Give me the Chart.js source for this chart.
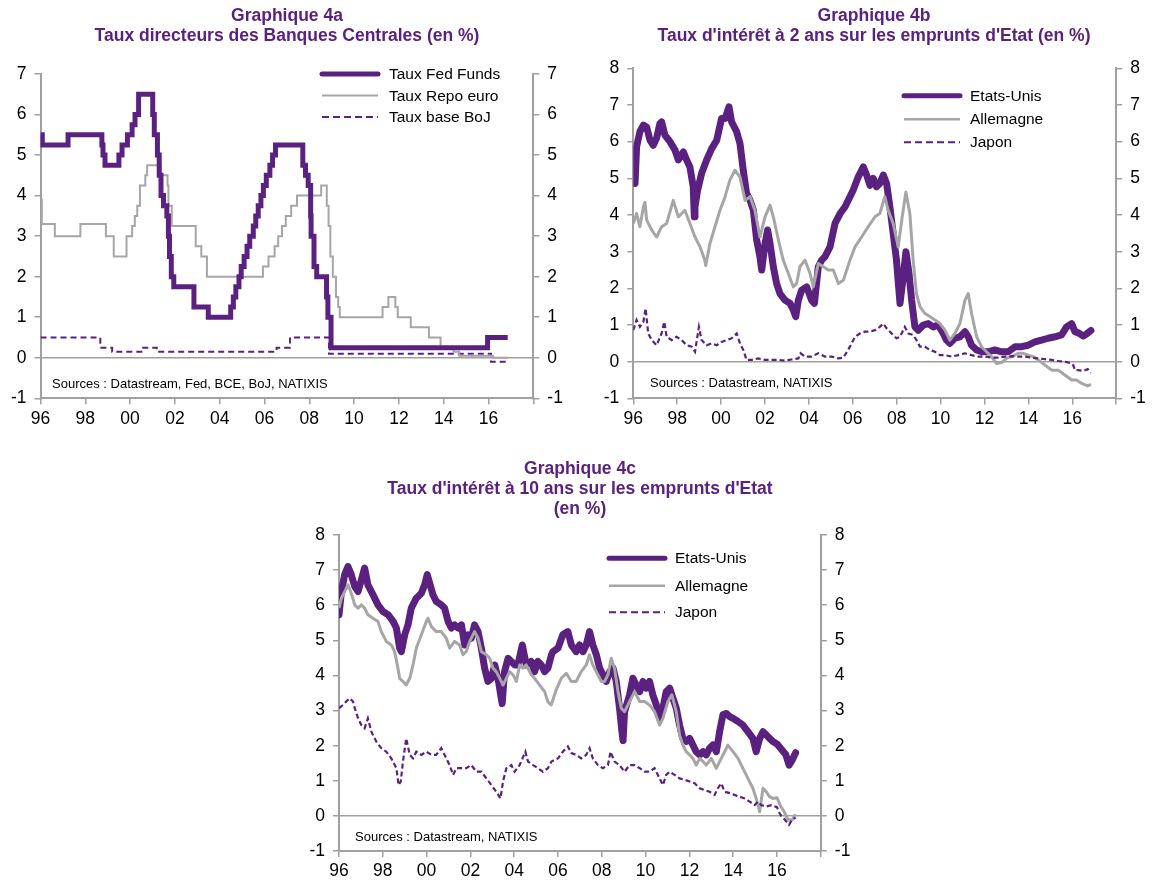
<!DOCTYPE html>
<html><head><meta charset="utf-8">
<script src="https://cdn.jsdelivr.net/npm/chart.js@4.4.0/dist/chart.umd.min.js"></script>
<style>
body{margin:0;width:1158px;height:881px;overflow:hidden;background:#fff;font-family:"Liberation Sans",Arial,sans-serif;position:relative}
canvas{position:absolute}
.title{position:absolute;color:#5B2180;font-weight:bold;font-size:17.5px;text-align:center;line-height:20px;white-space:nowrap;transform:translateX(-50%)}
.src{position:absolute;font-size:13px;color:#000;white-space:nowrap;line-height:16px}
.leg{position:absolute;font-size:15.5px;color:#000;white-space:nowrap;line-height:18px}
svg{position:absolute;left:0;top:0;overflow:visible}
</style></head>
<body>
<canvas id="c4a"></canvas>
<canvas id="c4b"></canvas>
<canvas id="c4c"></canvas>
<div class="title" style="left:287px;top:5px">Graphique 4a<br>Taux directeurs des Banques Centrales (en %)</div>
<div class="title" style="left:874px;top:5px">Graphique 4b<br>Taux d'intérêt à 2 ans sur les emprunts d'Etat (en %)</div>
<div class="title" style="left:580px;top:458px">Graphique 4c<br>Taux d'intérêt à 10 ans sur les emprunts d'Etat<br>(en %)</div>
<div class="src" style="left:52px;top:376px">Sources : Datastream, Fed, BCE, BoJ, NATIXIS</div>
<div class="src" style="left:650px;top:375px">Sources : Datastream, NATIXIS</div>
<div class="src" style="left:355px;top:829px">Sources : Datastream, NATIXIS</div>
<script>
// ---- Graphique 4a : policy rates (date, %)
const fedFunds = [[1996.00,5.50],[1996.08,5.25],[1997.23,5.50],[1998.74,5.25],[1998.79,5.00],[1998.88,4.75],[1999.50,5.00],[1999.64,5.25],[1999.88,5.50],[2000.09,5.75],[2000.22,6.00],[2000.38,6.50],[2001.01,6.00],[2001.08,5.50],[2001.22,5.00],[2001.30,4.50],[2001.38,4.00],[2001.49,3.75],[2001.64,3.50],[2001.71,3.00],[2001.76,2.50],[2001.84,2.00],[2001.95,1.75],[2002.85,1.25],[2003.49,1.00],[2004.49,1.25],[2004.61,1.50],[2004.72,1.75],[2004.86,2.00],[2004.96,2.25],[2005.09,2.50],[2005.22,2.75],[2005.34,3.00],[2005.50,3.25],[2005.61,3.50],[2005.72,3.75],[2005.84,4.00],[2005.95,4.25],[2006.08,4.50],[2006.24,4.75],[2006.36,5.00],[2006.49,5.25],[2007.71,4.75],[2007.83,4.50],[2007.95,4.25],[2008.06,3.50],[2008.08,3.00],[2008.21,2.25],[2008.33,2.00],[2008.77,1.50],[2008.83,1.00],[2008.97,0.25],[2015.96,0.50],[2016.86,0.50]];
const repoEuro = [[1996.00,3.90],[1996.06,3.30],[1996.64,3.00],[1997.78,3.30],[1998.92,3.00],[1999.27,2.50],[1999.84,3.00],[2000.09,3.25],[2000.21,3.50],[2000.32,3.75],[2000.44,4.25],[2000.68,4.50],[2000.76,4.75],[2001.36,4.50],[2001.67,4.25],[2001.71,3.75],[2001.86,3.25],[2002.93,2.75],[2003.18,2.50],[2003.43,2.00],[2005.93,2.25],[2006.18,2.50],[2006.45,2.75],[2006.61,3.00],[2006.78,3.25],[2006.95,3.50],[2007.19,3.75],[2007.45,4.00],[2008.53,4.25],[2008.78,3.75],[2008.86,3.25],[2008.94,2.50],[2009.05,2.00],[2009.19,1.50],[2009.29,1.25],[2009.36,1.00],[2011.27,1.25],[2011.53,1.50],[2011.84,1.25],[2011.95,1.00],[2012.53,0.75],[2013.34,0.50],[2013.86,0.25],[2014.44,0.15],[2014.69,0.05],[2016.19,0.00],[2016.86,0.00]];
const bojBase = [[1996.00,0.50],[1998.67,0.25],[1999.20,0.15],[2000.58,0.25],[2001.19,0.15],[2006.54,0.25],[2007.14,0.50],[2008.88,0.10],[2016.11,-0.10],[2016.80,-0.10]];

// ---- Graphique 4b : 2-year yields
const us2y = [[1996.00,5.13],[1996.08,4.86],[1996.15,5.86],[1996.30,6.27],[1996.46,6.45],[1996.61,6.40],[1996.76,6.04],[1996.91,5.90],[1997.06,6.09],[1997.21,6.49],[1997.29,6.54],[1997.44,6.18],[1997.67,6.00],[1997.90,5.77],[1998.05,5.50],[1998.28,5.72],[1998.43,5.50],[1998.58,5.31],[1998.73,4.77],[1998.78,3.95],[1998.81,4.22],[1998.93,4.68],[1999.11,5.13],[1999.34,5.50],[1999.57,5.81],[1999.80,6.04],[2000.02,6.63],[2000.18,6.63],[2000.36,6.95],[2000.48,6.54],[2000.71,6.27],[2000.86,5.95],[2001.01,5.22],[2001.16,4.59],[2001.32,4.40],[2001.47,4.13],[2001.62,3.32],[2001.77,2.86],[2001.85,2.50],[2002.00,3.22],[2002.12,3.59],[2002.23,3.22],[2002.38,2.59],[2002.53,2.13],[2002.68,1.86],[2002.91,1.68],[2003.14,1.59],[2003.29,1.41],[2003.40,1.23],[2003.52,1.68],[2003.67,1.95],[2003.90,2.04],[2004.12,1.68],[2004.25,1.59],[2004.43,2.59],[2004.58,2.77],[2004.73,2.86],[2004.96,3.13],[2005.19,3.77],[2005.42,4.04],[2005.64,4.22],[2005.79,4.40],[2006.02,4.68],[2006.25,5.04],[2006.48,5.31],[2006.63,5.09],[2006.78,4.81],[2006.93,5.00],[2007.08,4.77],[2007.23,4.86],[2007.39,5.09],[2007.54,4.86],[2007.69,4.22],[2007.84,3.50],[2007.99,2.77],[2008.15,1.59],[2008.30,2.32],[2008.42,3.00],[2008.56,2.41],[2008.68,1.68],[2008.83,0.95],[2008.98,0.86],[2009.21,1.00],[2009.44,1.04],[2009.66,0.95],[2009.89,1.00],[2010.12,0.77],[2010.27,0.59],[2010.42,0.50],[2010.65,0.64],[2010.88,0.68],[2011.11,0.82],[2011.26,0.68],[2011.41,0.45],[2011.64,0.32],[2011.87,0.27],[2012.17,0.27],[2012.47,0.32],[2012.78,0.27],[2013.08,0.27],[2013.39,0.41],[2013.69,0.41],[2013.99,0.45],[2014.30,0.54],[2014.60,0.59],[2014.90,0.64],[2015.21,0.68],[2015.51,0.73],[2015.74,0.95],[2015.97,1.04],[2016.12,0.82],[2016.30,0.78],[2016.50,0.70],[2016.65,0.76],[2016.85,0.85]];
const de2y = [[1996.00,3.77],[1996.15,4.04],[1996.30,3.68],[1996.46,4.22],[1996.53,4.35],[1996.61,3.86],[1996.84,3.59],[1997.06,3.40],[1997.29,3.68],[1997.52,3.77],[1997.82,4.40],[1998.05,3.95],[1998.35,4.13],[1998.58,3.77],[1998.81,3.40],[1999.04,3.13],[1999.26,2.77],[1999.30,2.62],[1999.49,3.22],[1999.72,3.68],[1999.95,4.13],[2000.18,4.50],[2000.40,4.95],[2000.63,5.22],[2000.86,5.04],[2001.09,4.40],[2001.32,4.50],[2001.54,4.13],[2001.77,3.40],[2002.00,3.95],[2002.23,4.27],[2002.38,3.95],[2002.61,3.32],[2002.83,2.77],[2003.06,2.41],[2003.29,2.04],[2003.44,2.13],[2003.59,2.59],[2003.82,2.77],[2004.05,2.41],[2004.20,2.04],[2004.43,2.68],[2004.66,2.59],[2004.88,2.50],[2005.11,2.50],[2005.34,2.13],[2005.57,2.22],[2005.87,2.77],[2006.10,3.13],[2006.40,3.40],[2006.70,3.68],[2007.01,3.95],[2007.23,4.04],[2007.46,4.50],[2007.61,4.13],[2007.84,3.77],[2008.07,3.13],[2008.25,3.95],[2008.42,4.63],[2008.60,4.04],[2008.75,2.77],[2008.90,1.86],[2009.06,1.50],[2009.28,1.32],[2009.51,1.23],[2009.74,1.14],[2009.97,1.04],[2010.20,0.86],[2010.42,0.59],[2010.65,0.77],[2010.88,1.04],[2011.11,1.68],[2011.26,1.86],[2011.41,1.32],[2011.64,0.68],[2011.87,0.41],[2012.09,0.27],[2012.32,0.14],[2012.55,-0.05],[2012.78,-0.02],[2013.01,0.09],[2013.23,0.14],[2013.54,0.23],[2013.76,0.23],[2013.99,0.18],[2014.22,0.14],[2014.45,0.05],[2014.75,-0.09],[2015.06,-0.23],[2015.36,-0.23],[2015.66,-0.36],[2015.97,-0.50],[2016.19,-0.50],[2016.45,-0.60],[2016.70,-0.66],[2016.85,-0.62]];
const jp2y = [[1996.00,0.86],[1996.15,1.14],[1996.30,0.95],[1996.46,1.09],[1996.56,1.45],[1996.68,0.77],[1996.84,0.59],[1997.06,0.45],[1997.29,0.77],[1997.41,1.09],[1997.52,0.68],[1997.75,0.59],[1997.97,0.68],[1998.20,0.59],[1998.43,0.45],[1998.66,0.41],[1998.81,0.27],[1998.99,0.95],[1999.11,0.59],[1999.34,0.45],[1999.57,0.50],[1999.80,0.45],[2000.02,0.54],[2000.25,0.59],[2000.48,0.64],[2000.71,0.77],[2000.86,0.50],[2001.01,0.32],[2001.16,0.05],[2001.39,0.05],[2001.69,0.09],[2002.00,0.05],[2002.30,0.05],[2002.61,0.05],[2002.91,0.03],[2003.21,0.06],[2003.52,0.09],[2003.62,0.23],[2003.82,0.14],[2004.12,0.14],[2004.43,0.23],[2004.73,0.14],[2005.04,0.14],[2005.34,0.09],[2005.57,0.11],[2005.87,0.41],[2006.10,0.68],[2006.32,0.77],[2006.55,0.82],[2006.78,0.82],[2007.01,0.86],[2007.23,0.95],[2007.39,1.04],[2007.54,0.91],[2007.77,0.77],[2007.99,0.64],[2008.15,0.68],[2008.37,0.95],[2008.53,0.77],[2008.75,0.73],[2008.90,0.59],[2009.06,0.41],[2009.28,0.41],[2009.51,0.32],[2009.74,0.27],[2009.97,0.18],[2010.20,0.18],[2010.50,0.14],[2010.80,0.18],[2011.11,0.23],[2011.41,0.18],[2011.71,0.14],[2012.02,0.14],[2012.32,0.11],[2012.63,0.11],[2012.93,0.14],[2013.23,0.15],[2013.54,0.14],[2013.84,0.14],[2014.14,0.11],[2014.45,0.09],[2014.75,0.07],[2015.06,0.05],[2015.36,0.02],[2015.66,0.00],[2015.89,-0.03],[2016.04,-0.09],[2016.12,-0.23],[2016.27,-0.23],[2016.50,-0.25],[2016.70,-0.20],[2016.85,-0.30]];

// ---- Graphique 4c : 10-year yields
const us10y = [[1996.00,5.73],[1996.11,6.39],[1996.26,6.87],[1996.41,7.10],[1996.56,6.87],[1996.72,6.53],[1996.87,6.39],[1997.02,6.72],[1997.17,7.06],[1997.32,6.58],[1997.55,6.30],[1997.78,6.01],[1998.01,5.82],[1998.24,5.73],[1998.47,5.54],[1998.62,5.35],[1998.77,4.78],[1998.85,4.68],[1999.00,5.16],[1999.15,5.44],[1999.30,5.92],[1999.53,6.20],[1999.76,6.34],[1999.91,6.58],[2000.03,6.87],[2000.14,6.63],[2000.29,6.30],[2000.44,6.11],[2000.67,6.01],[2000.82,5.92],[2000.98,5.54],[2001.13,5.35],[2001.28,5.44],[2001.43,5.35],[2001.59,5.44],[2001.74,4.87],[2001.89,5.16],[2002.04,5.06],[2002.19,5.44],[2002.35,5.25],[2002.50,4.78],[2002.65,4.21],[2002.80,3.83],[2002.96,3.92],[2003.11,4.30],[2003.26,3.92],[2003.41,3.35],[2003.45,3.20],[2003.56,4.11],[2003.72,4.49],[2003.87,4.40],[2004.02,4.30],[2004.17,4.30],[2004.37,4.87],[2004.55,4.30],[2004.78,4.40],[2004.93,4.11],[2005.08,4.40],[2005.24,4.30],[2005.39,4.11],[2005.54,4.21],[2005.70,4.59],[2005.77,4.68],[2006.00,4.78],[2006.22,5.16],[2006.45,5.25],[2006.61,4.87],[2006.83,4.68],[2006.99,4.87],[2007.14,4.68],[2007.29,4.87],[2007.44,5.25],[2007.59,4.87],[2007.75,4.59],[2007.90,4.21],[2008.05,4.02],[2008.20,3.83],[2008.36,4.11],[2008.51,4.21],[2008.66,3.83],[2008.81,3.07],[2008.92,2.40],[2008.97,2.15],[2009.04,2.97],[2009.27,3.45],[2009.42,3.92],[2009.57,3.73],[2009.73,3.54],[2009.88,3.83],[2010.03,3.64],[2010.18,3.83],[2010.33,3.45],[2010.49,3.16],[2010.64,2.78],[2010.79,3.07],[2010.94,3.54],[2011.10,3.64],[2011.25,3.35],[2011.40,3.07],[2011.55,2.59],[2011.70,2.21],[2011.86,2.12],[2012.01,2.21],[2012.16,2.02],[2012.31,1.83],[2012.47,1.74],[2012.62,1.83],[2012.77,1.74],[2012.92,1.93],[2013.07,2.02],[2013.23,1.83],[2013.38,2.40],[2013.53,2.88],[2013.68,2.92],[2013.84,2.83],[2013.99,2.78],[2014.22,2.69],[2014.44,2.59],[2014.67,2.40],[2014.90,2.21],[2015.05,1.83],[2015.21,2.21],[2015.36,2.40],[2015.51,2.31],[2015.66,2.21],[2015.81,2.12],[2016.00,2.05],[2016.20,1.90],[2016.40,1.75],[2016.55,1.45],[2016.70,1.60],[2016.85,1.80]];
const de10y = [[1996.00,5.92],[1996.11,6.20],[1996.26,6.39],[1996.41,6.58],[1996.56,6.34],[1996.72,6.01],[1996.87,5.92],[1997.02,6.01],[1997.17,5.92],[1997.32,5.73],[1997.55,5.63],[1997.78,5.54],[1997.93,5.25],[1998.16,4.97],[1998.39,4.87],[1998.54,4.68],[1998.69,4.21],[1998.77,3.92],[1998.92,3.83],[1999.07,3.73],[1999.23,3.92],[1999.38,4.30],[1999.53,4.78],[1999.76,5.16],[1999.99,5.54],[2000.06,5.63],[2000.22,5.39],[2000.44,5.25],[2000.67,5.25],[2000.90,5.06],[2001.05,4.78],[2001.28,4.97],[2001.51,4.87],[2001.66,4.59],[2001.81,4.68],[2001.97,4.97],[2002.19,5.25],[2002.35,5.06],[2002.50,4.68],[2002.73,4.59],[2002.88,4.49],[2003.03,4.21],[2003.18,4.11],[2003.34,3.92],[2003.49,3.73],[2003.64,3.92],[2003.79,4.11],[2003.95,4.02],[2004.10,3.83],[2004.25,4.30],[2004.40,4.21],[2004.55,4.30],[2004.78,4.02],[2004.93,3.92],[2005.16,3.73],[2005.39,3.54],[2005.54,3.25],[2005.69,3.16],[2005.92,3.60],[2006.15,3.92],[2006.38,4.06],[2006.61,3.83],[2006.83,3.83],[2007.06,4.11],[2007.29,4.30],[2007.44,4.59],[2007.59,4.30],[2007.82,4.02],[2007.98,3.83],[2008.13,3.83],[2008.28,4.02],[2008.43,4.49],[2008.58,4.21],[2008.74,3.54],[2008.89,3.07],[2009.04,2.97],[2009.27,3.26],[2009.50,3.54],[2009.73,3.26],[2009.95,3.26],[2010.18,3.16],[2010.41,2.97],[2010.64,2.59],[2010.79,2.78],[2011.02,3.26],[2011.20,3.45],[2011.40,2.97],[2011.55,2.31],[2011.70,2.02],[2011.86,1.83],[2012.01,1.74],[2012.16,1.64],[2012.31,1.45],[2012.47,1.64],[2012.62,1.55],[2012.77,1.45],[2013.00,1.64],[2013.23,1.36],[2013.38,1.55],[2013.61,1.83],[2013.76,2.02],[2013.99,1.83],[2014.22,1.64],[2014.44,1.36],[2014.67,1.07],[2014.90,0.79],[2015.05,0.50],[2015.21,0.12],[2015.36,0.79],[2015.51,0.69],[2015.66,0.55],[2015.81,0.50],[2016.00,0.52],[2016.15,0.30],[2016.30,0.15],[2016.45,-0.05],[2016.55,-0.12],[2016.70,-0.10],[2016.85,0.05]];
const jp10y = [[1996.00,3.07],[1996.18,3.16],[1996.33,3.26],[1996.49,3.35],[1996.64,3.26],[1996.72,3.07],[1996.87,2.78],[1997.02,2.59],[1997.17,2.50],[1997.32,2.78],[1997.48,2.40],[1997.70,2.12],[1997.93,1.93],[1998.16,1.83],[1998.39,1.64],[1998.62,1.36],[1998.72,0.88],[1998.82,0.98],[1998.92,1.55],[1999.07,2.21],[1999.23,1.74],[1999.38,1.64],[1999.53,1.83],[1999.76,1.74],[1999.99,1.83],[2000.22,1.74],[2000.44,1.74],[2000.67,1.93],[2000.82,1.74],[2001.05,1.45],[2001.21,1.17],[2001.36,1.36],[2001.59,1.36],[2001.81,1.36],[2002.04,1.45],[2002.27,1.26],[2002.50,1.26],[2002.73,1.07],[2002.96,0.88],[2003.18,0.69],[2003.37,0.50],[2003.49,0.98],[2003.64,1.36],[2003.87,1.45],[2004.02,1.26],[2004.25,1.45],[2004.51,1.83],[2004.63,1.55],[2004.86,1.45],[2005.08,1.36],[2005.31,1.26],[2005.54,1.36],[2005.70,1.55],[2006.00,1.64],[2006.22,1.83],[2006.45,1.98],[2006.61,1.79],[2006.83,1.74],[2007.06,1.64],[2007.29,1.74],[2007.44,1.93],[2007.59,1.64],[2007.82,1.45],[2008.05,1.36],[2008.28,1.45],[2008.40,1.83],[2008.58,1.55],[2008.81,1.45],[2009.04,1.26],[2009.27,1.45],[2009.50,1.45],[2009.73,1.36],[2009.95,1.26],[2010.18,1.26],[2010.41,1.36],[2010.64,1.07],[2010.79,0.88],[2010.94,1.17],[2011.10,1.26],[2011.32,1.17],[2011.55,1.07],[2011.78,1.03],[2012.01,0.98],[2012.24,0.93],[2012.47,0.79],[2012.69,0.74],[2012.92,0.69],[2013.15,0.60],[2013.30,0.79],[2013.45,0.93],[2013.61,0.69],[2013.84,0.65],[2014.06,0.60],[2014.29,0.55],[2014.52,0.50],[2014.75,0.41],[2014.98,0.31],[2015.13,0.41],[2015.28,0.31],[2015.51,0.27],[2015.74,0.31],[2016.00,0.25],[2016.10,0.10],[2016.20,0.00],[2016.35,-0.10],[2016.55,-0.25],[2016.70,-0.10],[2016.85,-0.05]];

// ---- axis ticks
const xTickYears = [1996,1998,2000,2002,2004,2006,2008,2010,2012,2014,2016,2018];
const xTickLabels = ['96','98','00','02','04','06','08','10','12','14','16',''];

const FAM = '"Liberation Sans", Arial, sans-serif';
const PURPLE = '#5B2180';
const GRAY = '#A6A6A6';
const AXIS = '#A0A0A0';
const TICK_FONT = 17.5;

function pts(a){ return a.map(p => ({x:p[0], y:p[1]})); }

function makeChart(id, box, area, yMin, yMax, datasets){
  const cv = document.getElementById(id);
  cv.width = box.w; cv.height = box.h;
  cv.style.left = box.l + 'px'; cv.style.top = box.t + 'px';
  const leftW = area.l - box.l, rightW = box.l + box.w - area.r;
  const botH = box.t + box.h - area.b, topP = area.t - box.t;
  const yTicks = {stepSize:1, color:'#000', font:{family:FAM, size:TICK_FONT}, callback: v => String(v)};
  new Chart(cv, {
    type:'line',
    data:{datasets},
    options:{
      responsive:false, animation:false, devicePixelRatio:1,
      layout:{padding:{top:topP, left:0, right:0, bottom:0}},
      plugins:{legend:{display:false}, tooltip:{enabled:false}},
      elements:{point:{radius:0}, line:{tension:0}},
      scales:{
        x:{type:'linear', min:1996, max:2018,
           afterBuildTicks: s => { s.ticks = xTickYears.map(v => ({value:v})); },
           ticks:{autoSkip:false, maxRotation:0, minRotation:0, color:'#000', font:{family:FAM, size:TICK_FONT}, padding:4,
                  callback: v => { const i = xTickYears.indexOf(v); return i >= 0 ? xTickLabels[i] : ''; }},
           grid:{drawOnChartArea:false, color:AXIS, tickLength:6, lineWidth:1.5},
           border:{color:AXIS, width:2},
           afterFit: s => { s.height = botH; }},
        y:{position:'left', min:yMin, max:yMax, ticks:Object.assign({padding:8}, yTicks),
           grid:{color: c => (c.tick && c.tick.value === 0) ? AXIS : 'rgba(0,0,0,0)', tickColor:AXIS, tickLength:6, lineWidth:1.5},
           border:{color:AXIS, width:2},
           afterFit: s => { s.width = leftW; }},
        y2:{position:'right', min:yMin, max:yMax, ticks:Object.assign({padding:8}, yTicks),
           grid:{drawOnChartArea:false, color:AXIS, tickLength:6, lineWidth:1.5},
           border:{color:AXIS, width:2},
           afterFit: s => { s.width = rightW; }}
      }
    }
  });
}

function legend(items, x1, x2, tx, ys){
  const ns = 'http://www.w3.org/2000/svg';
  const svg = document.createElementNS(ns, 'svg');
  svg.setAttribute('width', 1158); svg.setAttribute('height', 881);
  items.forEach((it, i) => {
    const ln = document.createElementNS(ns, 'line');
    ln.setAttribute('x1', x1); ln.setAttribute('x2', x2);
    ln.setAttribute('y1', ys[i]); ln.setAttribute('y2', ys[i]);
    ln.setAttribute('stroke', it.color); ln.setAttribute('stroke-width', it.w);
    if (it.dash) ln.setAttribute('stroke-dasharray', it.dash);
    if (it.round) ln.setAttribute('stroke-linecap', 'round');
    svg.appendChild(ln);
    const d = document.createElement('div');
    d.className = 'leg'; d.textContent = it.label;
    d.style.left = tx + 'px'; d.style.top = (ys[i] - 9) + 'px';
    document.body.appendChild(d);
  });
  document.body.appendChild(svg);
}

// Chart 4a
makeChart('c4a', {l:0, t:0, w:580, h:440}, {l:40.5, t:74, r:533.3, b:398.3}, -1, 7, [
  {data:pts(fedFunds), borderColor:PURPLE, borderWidth:5, stepped:true, order:1},
  {data:pts(repoEuro), borderColor:GRAY, borderWidth:2, stepped:true, order:2},
  {data:pts(bojBase), borderColor:PURPLE, borderWidth:2, borderDash:[6,4], stepped:true, order:3}
]);
legend([
  {label:'Taux Fed Funds', color:PURPLE, w:5, round:true},
  {label:'Taux Repo euro', color:GRAY, w:2},
  {label:'Taux base BoJ', color:PURPLE, w:2, dash:'7 4'}
], 322, 378, 389, [74, 95.5, 117]);

// Chart 4b
makeChart('c4b', {l:590, t:0, w:568, h:440}, {l:633.3, t:68.3, r:1116.2, b:398.4}, -1, 8, [
  {data:pts(us2y), borderColor:PURPLE, borderWidth:7, borderJoinStyle:'round', borderCapStyle:'round', order:3},
  {data:pts(de2y), borderColor:GRAY, borderWidth:3, borderJoinStyle:'round', order:2},
  {data:pts(jp2y), borderColor:PURPLE, borderWidth:2.2, borderDash:[5,3], order:1}
]);
legend([
  {label:'Etats-Unis', color:PURPLE, w:5, round:true},
  {label:'Allemagne', color:GRAY, w:2.5},
  {label:'Japon', color:PURPLE, w:2, dash:'7 4'}
], 904, 960, 970, [95.7, 119.3, 142.3]);

// Chart 4c
makeChart('c4c', {l:290, t:455, w:580, h:435}, {l:339, t:535, r:820.8, b:851.1}, -1, 8, [
  {data:pts(us10y), borderColor:PURPLE, borderWidth:7, borderJoinStyle:'round', borderCapStyle:'round', order:3},
  {data:pts(de10y), borderColor:GRAY, borderWidth:3, borderJoinStyle:'round', order:2},
  {data:pts(jp10y), borderColor:PURPLE, borderWidth:2.2, borderDash:[5,3], order:1}
]);
legend([
  {label:'Etats-Unis', color:PURPLE, w:5, round:true},
  {label:'Allemagne', color:GRAY, w:2.5},
  {label:'Japon', color:PURPLE, w:2, dash:'7 4'}
], 609, 665, 675, [558.3, 585.7, 612.3]);
</script>
</body></html>
